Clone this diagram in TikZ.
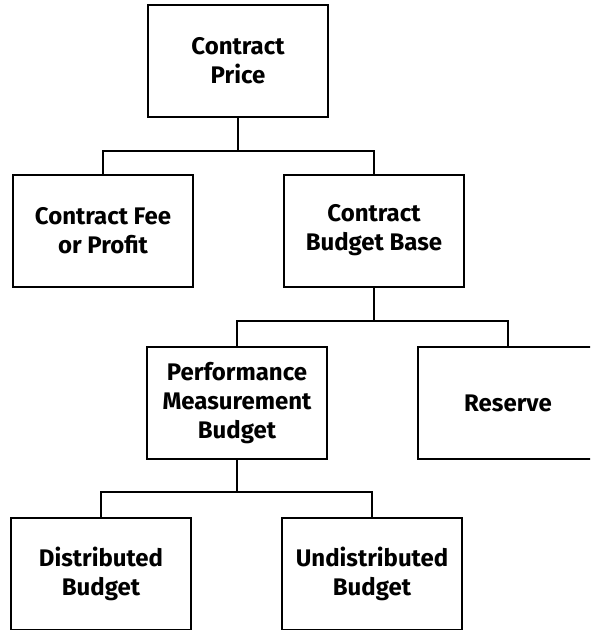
\documentclass[tikz,border=0pt]{standalone}
\usepackage{fontspec}
\setmainfont{Fira Sans}
\begin{document}
\begin{tikzpicture}[x=1pt,y=1pt,
  box/.style={draw=black, line width=2pt, minimum width=180pt, minimum height=112pt,
    align=center, inner sep=0pt, font={\fontsize{24}{29}\selectfont\bfseries}},
  link/.style={draw=black, line width=2pt}]
  \useasboundingbox (0,0) rectangle (590,-630);
  \clip (0,0) rectangle (590,-630);

  % boxes of the budget breakdown
  \node[box] (price)  at (238,-61)  {Contract\\Price};
  \node[box] (fee)    at (103,-230.5) {Contract Fee\\or Profit};
  \node[box] (base)   at (374,-230.5) {Contract\\Budget Base};
  \node[box] (pmb)    at (237,-403) {Performance\\Measurement\\Budget};
  \node[box] (res)    at (508,-403) {Reserve};
  \node[box] (dist)   at (101,-574) {Distributed\\Budget};
  \node[box] (undist) at (372,-574) {Undistributed\\Budget};

  % branch points
  \coordinate (j1) at (238,-151);
  \coordinate (j2) at (374,-321);
  \coordinate (j3) at (237,-492);

  % connectors
  \draw[link] (price.south) -- (j1);
  \draw[link] (fee.north) |- (j1) -| (base.north);
  \draw[link] (base.south) -- (j2);
  \draw[link] (pmb.north) |- (j2) -| (res.north);
  \draw[link] (pmb.south) -- (j3);
  \draw[link] (dist.north) |- (j3) -| (undist.north);
\end{tikzpicture}
\end{document}
